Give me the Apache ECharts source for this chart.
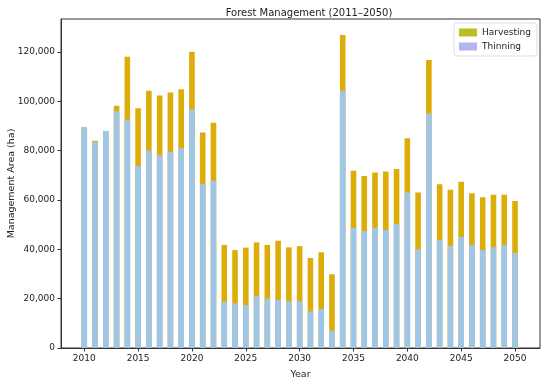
<!DOCTYPE html>
<html>
<head>
<meta charset="utf-8">
<script src="https://cdn.jsdelivr.net/npm/echarts@6/dist/echarts.min.js"></script>
<style>html,body{margin:0;padding:0;background:#fff}#c{width:550px;height:383px}</style>
</head>
<body>
<div id="c"></div>
<script>
const years = [2010,2011,2012,2013,2014,2015,2016,2017,2018,2019,2020,2021,2022,2023,2024,2025,2026,2027,2028,2029,2030,2031,2032,2033,2034,2035,2036,2037,2038,2039,2040,2041,2042,2043,2044,2045,2046,2047,2048,2049,2050];
const thinning = [89500,83500,88000,96000,92700,73800,80000,78200,79600,81000,96800,66500,67800,18800,18100,17400,21000,20000,19500,19000,19000,14800,15800,7000,104300,48800,47400,48800,47800,50300,63100,40000,95100,43800,41400,45100,41800,39700,40800,41800,38600];
const harvesting = [0,500,0,2200,25400,23400,24300,24200,24000,23900,23300,20900,23500,23000,21600,23300,21800,21800,24000,21800,22300,21700,23000,22900,22600,23100,22300,22400,23800,22300,21900,23100,21700,22600,22800,22300,20900,21400,21300,20300,21000];
const xTicks = [2010,2015,2020,2025,2030,2035,2040,2045,2050];
const yTicks = [0,20000,40000,60000,80000,100000,120000];

const font = 'DejaVu Sans';
// Stacked display: harvesting sits on top of thinning (drawn from base 0 to thinning+harvesting, behind thinning)
const harvestTop = years.map((y, i) => [y, thinning[i] + harvesting[i]]);
const thinData = years.map((y, i) => [y, thinning[i]]);

const chart = echarts.init(document.getElementById('c'));
chart.setOption({
  animation: false,
  backgroundColor: '#fff',
  title: {
    text: 'Forest Management (2011–2050)',
    left: 304, top: 3, textAlign: 'center',
    textStyle: {fontFamily: font, fontSize: 10, fontWeight: 'normal', color: '#222'}
  },
  legend: {
    right: 13, top: 23, orient: 'vertical',
    itemWidth: 18, itemHeight: 8, itemGap: 5,
    padding: [5, 6, 5, 5],
    borderColor: '#ddd', borderWidth: 1, borderRadius: 3,
    textStyle: {fontFamily: font, fontSize: 9, color: '#222'},
    data: [
      {name: 'Harvesting', icon: 'rect', itemStyle: {color: '#bcbd22'}},
      {name: 'Thinning', icon: 'rect', itemStyle: {color: '#b4b4ee'}}
    ]
  },
  grid: {left: 61, right: 10, top: 19, bottom: 35, containLabel: false, outerBoundsMode: 'none',
         show: true, borderColor: '#333', borderWidth: 1, backgroundColor: 'transparent'},
  xAxis: {
    type: 'value', min: 2007.84, max: 2052.32,
    name: 'Year', nameLocation: 'middle', nameGap: 22, nameMoveOverlap: false,
    nameTextStyle: {fontFamily: font, fontSize: 9.5, color: '#222'},
    axisLine: {show: true, lineStyle: {color: '#333'}},
    axisTick: {show: true, length: 3.5, customValues: xTicks, lineStyle: {color: '#333'}},
    axisLabel: {customValues: xTicks, fontFamily: font, fontSize: 9, color: '#222', margin: 6,
      formatter: v => String(v)},
    splitLine: {show: false}
  },
  yAxis: {
    type: 'value', min: 0, max: 133400,
    name: 'Management Area (ha)', nameLocation: 'middle', nameGap: 44, nameMoveOverlap: false,
    nameTextStyle: {fontFamily: font, fontSize: 9.5, color: '#222'},
    axisLine: {show: true, lineStyle: {color: '#333'}},
    axisTick: {show: true, length: 3.5, customValues: yTicks, lineStyle: {color: '#333'}},
    axisLabel: {customValues: yTicks, fontFamily: font, fontSize: 9, color: '#222', margin: 6,
      formatter: v => v.toLocaleString('en-US')},
    splitLine: {show: false}
  },
  series: [
    {name: 'Harvesting', type: 'bar', barWidth: 5.6, barGap: '-100%', z: 2,
     itemStyle: {color: '#dcac08'},
     data: harvestTop},
    {name: 'Thinning', type: 'bar', barWidth: 5.6, barGap: '-100%', z: 3,
     itemStyle: {color: '#9ec6e8'},
     data: thinData}
  ]
});
</script>
</body>
</html>
